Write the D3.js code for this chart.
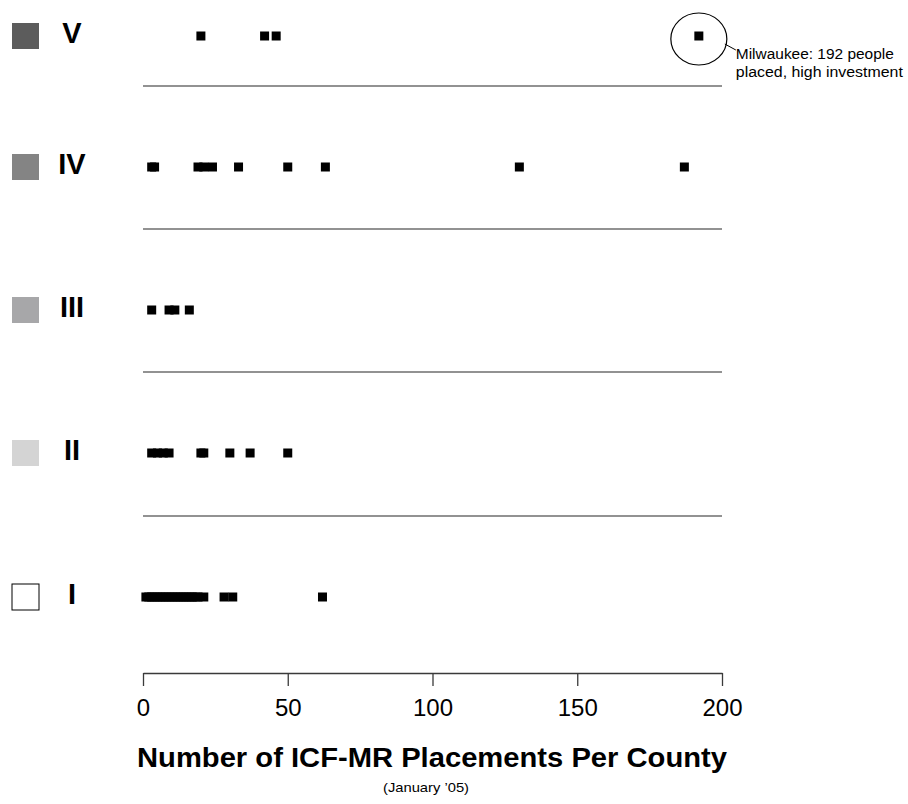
<!DOCTYPE html>
<html>
<head>
<meta charset="utf-8">
<script src="https://cdn.jsdelivr.net/npm/d3@7"></script>
<style>
  body { margin: 0; background: #fff; }
  text { font-family: "Liberation Sans", Arial, Helvetica, sans-serif; }
</style>
</head>
<body>
<div id="chart"></div>
<script>
// values
let groups = ["V", "IV", "III", "II", "I"];
let placementsV = [20, 42, 46, 192];
let placementsIV = [3, 4, 19, 21, 24, 33, 50, 63, 130, 187];
let placementsIII = [3, 9, 11, 16];
let placementsII = [3, 5, 7, 9, 20, 21, 30, 37, 50];
let placementsI = [1, 2, 3, 4, 5, 6, 7, 8, 9, 10, 11, 12, 13, 14, 15, 16, 17, 18, 19, 21, 28, 31, 62];
let xTicks = [0, 50, 100, 150, 200];
let calloutGroup = "V";
let calloutValue = 192;
let calloutLines = ["Milwaukee: 192 people", "placed, high investment"];
let titleText = "Number of ICF-MR Placements Per County";
let subtitleText = "(January \u201905)";

let svgWidth = 908;
let svgHeight = 804;
let markSize = 9;

//SVG wrapper
let svg = d3.select("#chart")
    .append("svg")
    .attr("width", svgWidth)
    .attr("height", svgHeight);

//scales
let xScale = d3.scaleLinear()
    .domain([0, 200])
    .range([143, 722]);

let yScale = d3.scaleOrdinal()
    .domain(groups)
    .range([36, 167, 310, 453, 597]);

let fillScale = d3.scaleOrdinal()
    .domain(groups)
    .range(["#5c5c5c", "#848484", "#a7a7a9", "#d4d4d4", "#ffffff"]);

let valuesByGroup = [placementsV, placementsIV, placementsIII, placementsII, placementsI];

let points = [];
groups.forEach((g, i) => {
    valuesByGroup[i].forEach(v => points.push({group: g, value: v}));
});

//separator lines above rows IV..I
svg.append("g")
    .selectAll("line")
    .data(groups.slice(1))
    .enter()
    .append("line")
    .attr("x1", xScale(0))
    .attr("x2", xScale(200))
    .attr("y1", d => yScale(d) - 81)
    .attr("y2", d => yScale(d) - 81)
    .attr("stroke", "#6e6e6e")
    .attr("stroke-width", 1.5);

//legend squares
svg.append("g")
    .selectAll("rect")
    .data(groups)
    .enter()
    .append("rect")
    .attr("x", 12)
    .attr("y", d => yScale(d) - 13)
    .attr("width", 27)
    .attr("height", 26)
    .attr("fill", d => fillScale(d))
    .attr("stroke", d => d === "I" ? "#000" : "none")
    .attr("stroke-width", 1);

//roman labels
svg.append("g")
    .selectAll("text")
    .data(groups)
    .enter()
    .append("text")
    .attr("x", 72)
    .attr("y", d => yScale(d) + 7)
    .attr("text-anchor", "middle")
    .attr("font-size", 29)
    .attr("font-weight", "bold")
    .text(d => d);

//county marks
svg.append("g")
    .selectAll("rect")
    .data(points)
    .enter()
    .append("rect")
    .attr("x", d => xScale(d.value) - markSize / 2)
    .attr("y", d => yScale(d.group) - markSize / 2)
    .attr("width", markSize)
    .attr("height", markSize)
    .attr("fill", "#000");

//x axis
let xAxis = svg.append("g")
    .attr("transform", "translate(0, 673)")
    .call(d3.axisBottom(xScale)
        .tickValues(xTicks)
        .tickSize(13)
        .tickSizeOuter(0)
        .tickPadding(13));

xAxis.attr("font-family", null).attr("font-size", 24);
xAxis.selectAll("path, line").attr("stroke", "#3a3a3a").attr("stroke-width", 1.3);
xAxis.selectAll("text").attr("fill", "#000");

//titles
svg.append("text")
    .attr("x", 432)
    .attr("y", 767)
    .attr("text-anchor", "middle")
    .attr("font-size", 27)
    .attr("font-weight", "bold")
    .attr("textLength", 590)
    .attr("lengthAdjust", "spacingAndGlyphs")
    .text(titleText);

svg.append("text")
    .attr("x", 383)
    .attr("y", 792)
    .attr("font-size", 13)
    .attr("textLength", 86)
    .attr("lengthAdjust", "spacingAndGlyphs")
    .text(subtitleText);

//Milwaukee callout
let cx = xScale(calloutValue);
let cy = yScale(calloutGroup) + 3;

svg.append("ellipse")
    .attr("cx", cx)
    .attr("cy", cy)
    .attr("rx", 28)
    .attr("ry", 26)
    .attr("fill", "none")
    .attr("stroke", "#000")
    .attr("stroke-width", 1.2);

svg.append("line")
    .attr("x1", cx + 26)
    .attr("y1", cy + 5)
    .attr("x2", cx + 37)
    .attr("y2", cy + 11)
    .attr("stroke", "#000")
    .attr("stroke-width", 1);

svg.append("g")
    .selectAll("text")
    .data(calloutLines)
    .enter()
    .append("text")
    .attr("x", cx + 37)
    .attr("y", (d, i) => cy + 20 + i * 18)
    .attr("font-size", 14)
    .attr("textLength", (d, i) => i === 0 ? 158 : 167)
    .attr("lengthAdjust", "spacingAndGlyphs")
    .text(d => d);
</script>
</body>
</html>
